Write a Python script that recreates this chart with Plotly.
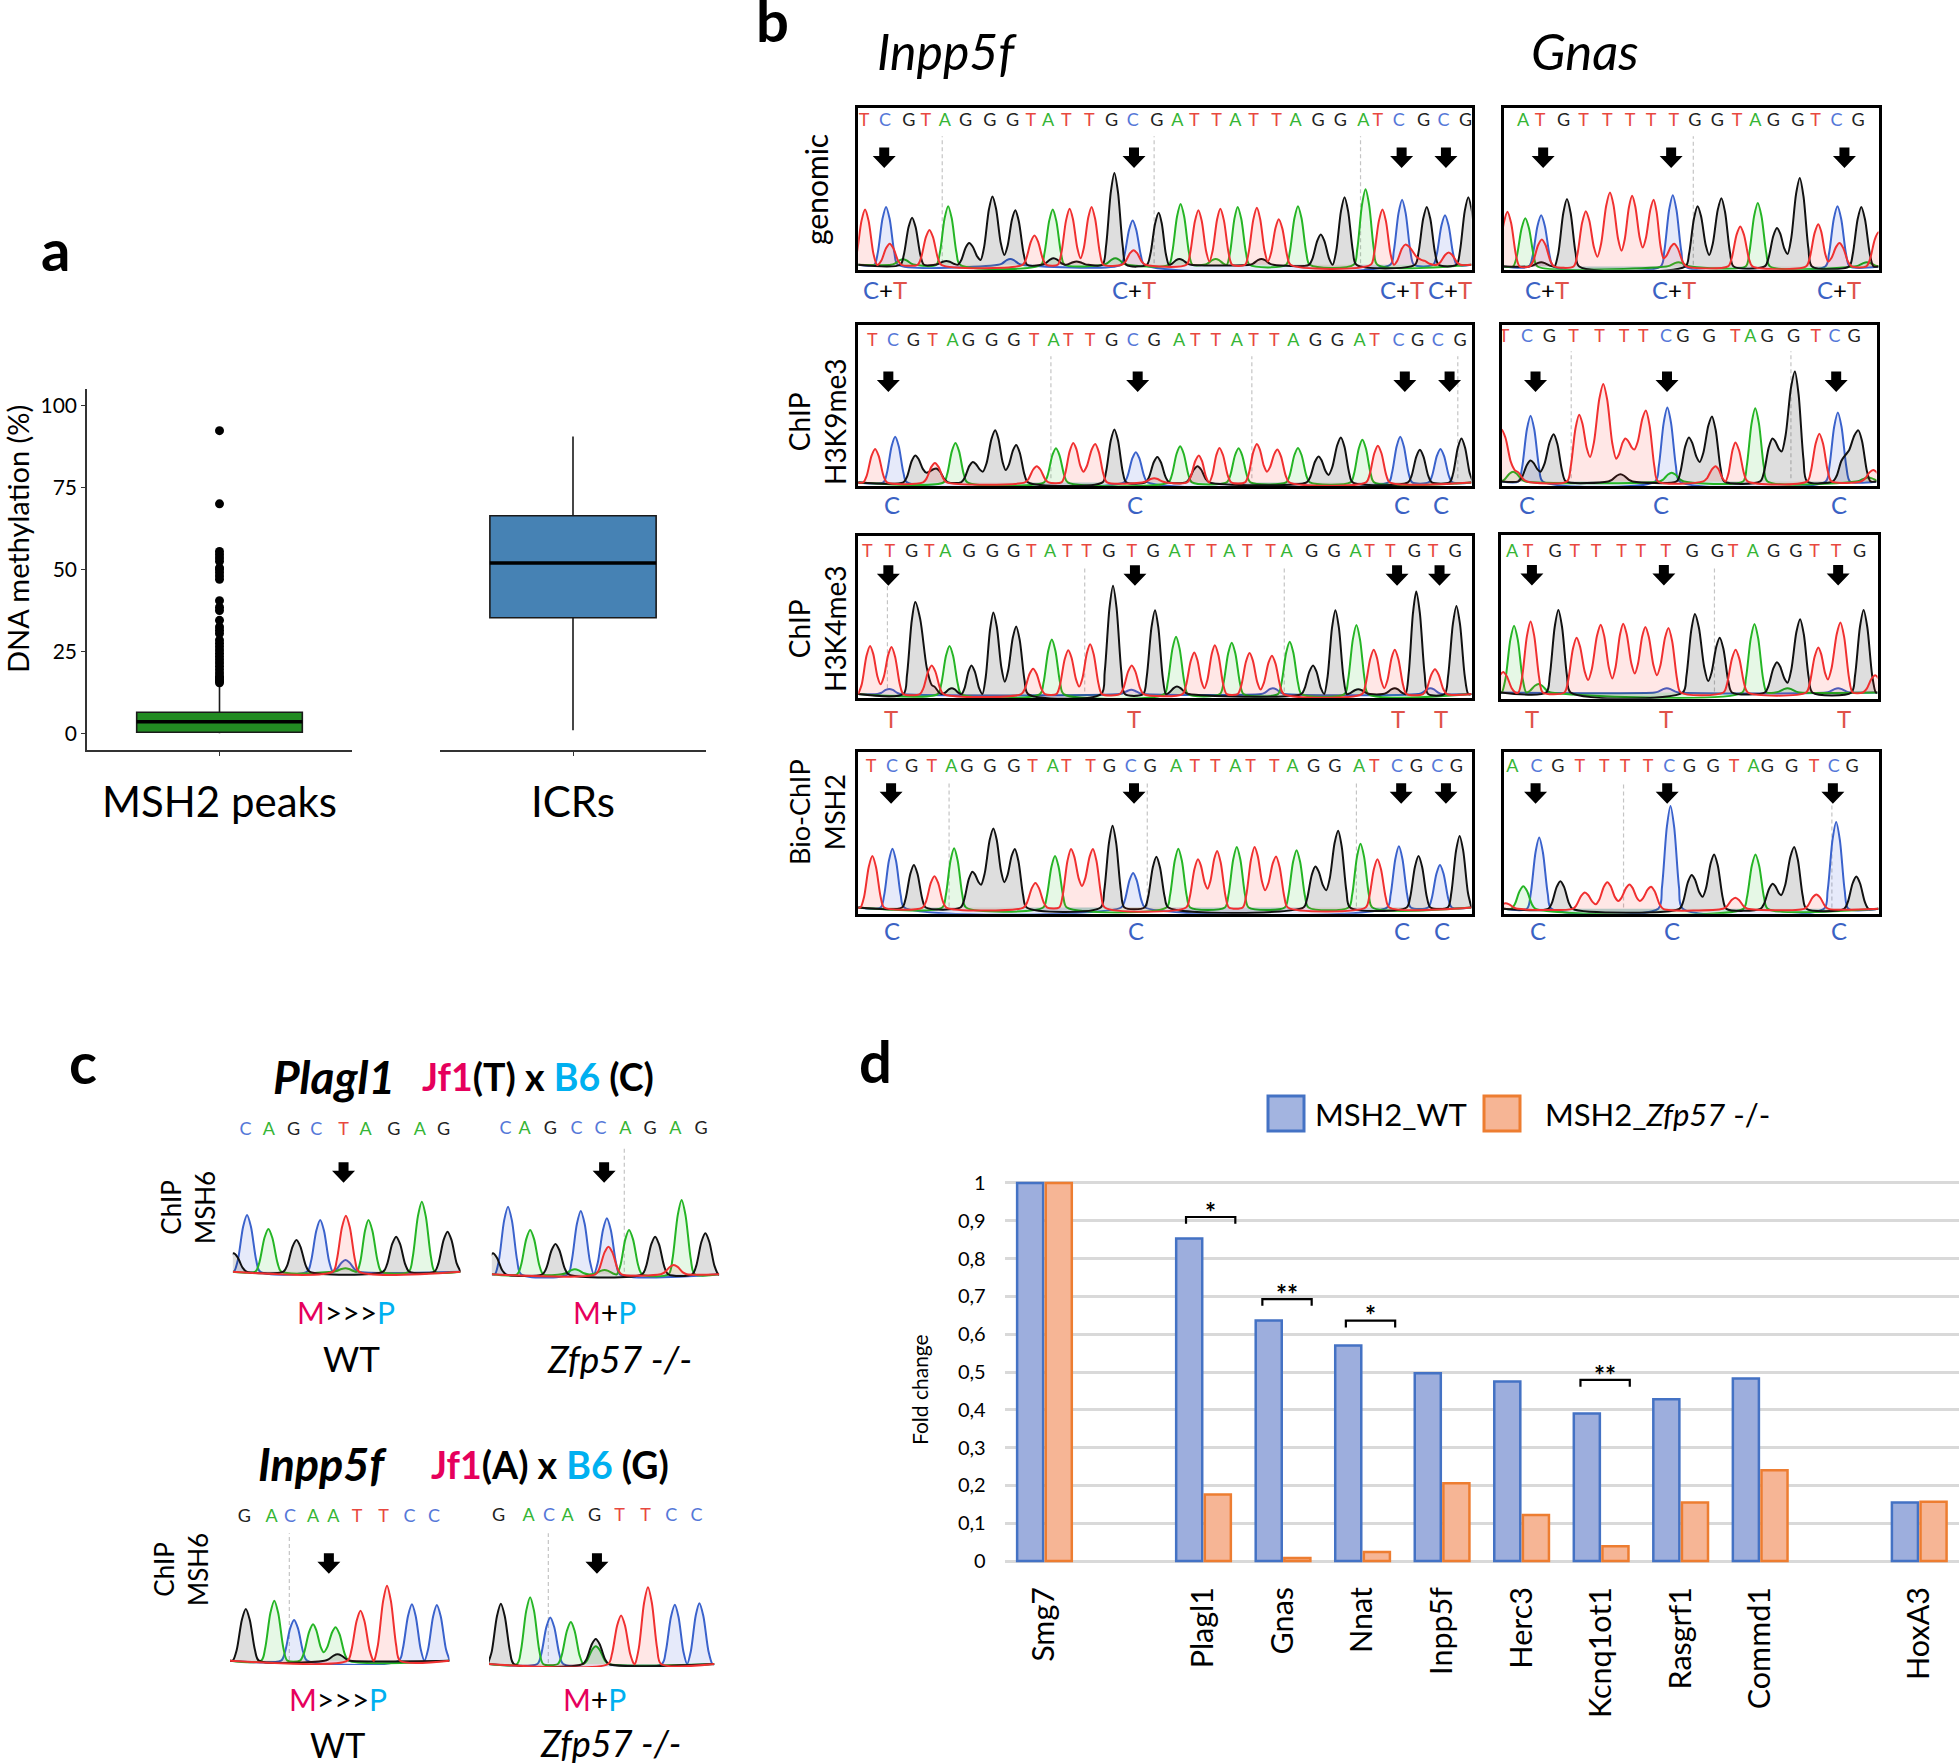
import math
import plotly.graph_objects as go

W, H = 1959, 1764
FONT = "Lato"

# ---------- panel a ----------
BOX_NAMES = ["MSH2 peaks", "ICRs"]
BOX_Q1 = [0.4, 35.3]
BOX_MEDIAN = [3.6, 52.0]
BOX_Q3 = [6.5, 66.4]
BOX_LOW = [0.1, 1.0]
BOX_HIGH = [15.0, 90.5]
BOX_COLORS = ["#228B22", "#4682B4"]
OUTLIERS = [92.3, 70, 55.5, 54.5, 53.5, 52.5, 50.5, 50, 49, 48, 47, 40.5, 38.5, 37.5, 34.5,
            32.5, 31.5, 30.5, 28.5, 27.5, 26.5, 25.5, 24.5, 23.5, 22.5, 21.5, 20.5, 19.5,
            18.5, 17.5, 17, 16.5, 16, 15.5]

# ---------- panel d ----------
GENES = ["Smg7", "", "Plagl1", "Gnas", "Nnat", "Inpp5f", "Herc3", "Kcnq1ot1", "Rasgrf1", "Commd1", "", "HoxA3"]
WT_VALUES = [1, None, .853, .636, .57, .497, .475, .39, .428, .483, None, .155]
KO_VALUES = [1, None, .176, .008, .024, .206, .122, .039, .155, .24, None, .157]
D_TICKS = [0, .1, .2, .3, .4, .5, .6, .7, .8, .9, 1]
D_LABELS = ["0", "0,1", "0,2", "0,3", "0,4", "0,5", "0,6", "0,7", "0,8", "0,9", "1"]
SIG_X = [2.09, 3.05, 4.10, 7.05]
SIG_Y = [.91, .693, .636, .479]
SIG_TEXT = ["*", "**", "*", "**"]

# ---------- chromatograms: (scan position, height) of peaks and valleys ----------
IG_RED = [(182,170),(236,65),(323,107),(553,90),(630,172),(654,20),(678,178),(770,45),(912,168),(936,10),(960,172),(1040,175),(1064,10),(1088,140),(1315,170),(1365,62),(1400,15),(1460,38)]
IG_BLK = [(285,145),(360,12),(410,67),(435,15),(461,210),(487,30),(511,168),(595,20),(645,10),(728,282),(825,160),(870,18),(1050,18),(1180,93),(1232,208),(1412,178),(1503,208)]
IG_GRN = [(265,17),(364,180),(593,170),(730,20),(873,187),(950,18),(998,178),(1130,180),(1278,232)]
IG_BLU = [(228,178),(500,18),(768,136),(1358,200),(1452,152)]
IG_SEQ = "TCGTAGGGTATTGCGATTATTAGGATCGCG"
IG_SEQX = [180,226,278,315,357,402,455,505,545,583,623,673,722,768,821,866,903,952,993,1033,1083,1125,1174,1223,1273,1305,1351,1405,1449,1497]

I9_RED = [(204,103),(335,60),(558,50),(638,121),(660,33),(686,118),(815,13),(913,83),(958,106),(1040,118),(1062,33),(1085,101),(1305,113)]
I9_BLK = [(292,83),(316,30),(338,43),(418,63),(440,33),(467,160),(490,38),(513,115),(728,163),(822,78),(910,50),(1175,80),(1197,23),(1224,138),(1397,100),(1488,135)]
I9_GRN = [(380,121),(600,105),(872,111),(1000,105),(1130,106),(1271,131)]
I9_BLU = [(248,140),(775,93),(1354,140),(1442,103)]
I9_SEQ = "TCGTAGGGTATTGCGATTATTAGGATCGCG"
I9_SEQX = [198,243,288,330,374,408,459,508,552,595,627,675,722,768,815,870,905,950,996,1033,1078,1120,1168,1216,1265,1298,1350,1392,1436,1485]

I4_RED = [(193,148),(216,30),(240,145),(328,88),(550,78),(627,135),(651,23),(675,153),(766,88),(903,128),(925,18),(948,150),(1024,126),(1048,14),(1073,118),(1296,136),(1319,18),(1342,136),(1430,76)]
I4_BLK = [(292,283),(328,28),(372,18),(415,88),(463,251),(488,38),(513,208),(725,333),(817,258),(865,23),(1163,88),(1212,258),(1262,15),(1342,18),(1389,315),(1477,271)]
I4_GRN = [(367,148),(591,168),(863,176),(985,158),(1112,161),(1258,212)]
I4_BLU = [(235,16),(765,13),(1075,18),(1420,18)]
I4_SEQ = "TTGTAGGGTATTGTGATTATTAGGATTGTG"
I4_SEQX = [187,236,284,323,358,410,461,507,546,587,625,667,716,766,813,860,893,941,980,1019,1070,1105,1160,1209,1256,1287,1332,1385,1426,1474]

IB_RED = [(198,158),(334,96),(555,75),(633,180),(657,66),(681,180),(911,148),(932,58),(953,174),(1035,186),(1058,53),(1082,157),(1304,148)]
IB_BLK = [(289,131),(417,110),(436,70),(463,243),(487,78),(510,180),(724,251),(820,156),(1168,126),(1192,53),(1218,236),(1394,158),(1484,220)]
IB_GRN = [(377,182),(598,158),(868,181),(996,186),(1127,176),(1267,196)]
IB_BLU = [(242,181),(769,106),(1351,188),(1441,131)]
IB_SEQ = "TCGTAGGGTATTGCGATTATTAGGATCGCG"
IB_SEQX = [195,241,284,328,371,405,455,508,549,593,623,676,717,764,806,863,904,949,993,1026,1078,1118,1164,1211,1264,1297,1347,1389,1435,1477]

GG_RED = [(78,168),(182,83),(315,170),(350,30),(388,227),(423,48),(455,217),(487,58),(520,205),(550,25),(582,70),(782,123),(1018,130),(1048,15),(1082,72),(1200,105)]
GG_BLK = [(180,13),(258,207),(653,185),(688,35),(725,210),(893,118),(925,38),(962,272),(1148,183)]
GG_GRN = [(132,148),(595,13),(835,195),(1165,13)]
GG_BLU = [(180,157),(578,219),(1076,185)]
GG_SEQ = "ATGTTTTTGGTAGGTCG"
GG_SEQX = [125,177,248,308,380,449,512,581,645,713,772,828,882,956,1010,1073,1138]

G9_RED = [(60,160),(100,35),(295,205),(328,75),(368,300),(407,70),(435,132),(462,98),(497,218),(708,47),(768,120),(1022,147),(1185,35)]
G9_BLK = [(148,64),(178,30),(218,145),(420,22),(627,135),(660,60),(697,200),(880,132),(908,92),(948,338),(1100,80),(1140,157)]
G9_GRN = [(95,30),(575,27),(828,225),(1170,12)]
G9_BLU = [(148,202),(562,227),(1078,212)]
G9_SEQ = "TCGTTTTCGGTAGGTCG"
G9_SEQX = [68,137,205,278,357,431,489,558,609,688,768,813,864,944,1011,1068,1127]

G4_RED = [(65,63),(148,218),(287,168),(322,38),(360,208),(395,43),(428,211),(463,58),(495,201),(530,53),(565,198),(768,131),(1018,138),(1047,40),(1085,215),(1190,53)]
G4_BLK = [(232,253),(645,241),(685,35),(720,168),(893,93),(925,30),(963,225),(1155,253)]
G4_GRN = [(98,205),(172,26),(825,210),(925,13)]
G4_BLU = [(560,13),(1078,13)]
G4_SEQ = "ATGTTTTTGGTAGGTTG"
G4_SEQX = [92,140,222,282,346,423,481,557,636,713,760,820,883,950,1007,1072,1143]

GB_RED = [(72,17),(312,50),(345,14),(380,82),(413,24),(447,75),(478,24),(512,68),(767,34),(1012,44)]
GB_BLK = [(238,85),(635,104),(668,37),(703,167),(880,77),(906,42),(945,190),(1133,99)]
GB_GRN = [(126,69),(828,167)]
GB_BLU = [(174,219),(571,316),(1072,267)]
GB_SEQ = "ACGTTTTCGGTAGGTCG"
GB_SEQX = [93,166,230,297,371,434,503,567,628,700,763,822,864,937,1005,1065,1120]

C1_RED = [(546,168)]
C1_BLK = [(262,55),(421,95),(673,105),(803,120)]
C1_GRN = [(350,128),(545,10),(603,155),(738,210)]
C1_BLU = [(296,170),(481,155),(545,35)]
C1_SEQ = "CAGCTAGAG"
C1_SEQX = [292,351,414,471,540,596,667,733,793]

C2_RED = [(1210,83),(1375,28)]
C2_BLK = [(918,63),(1076,91),(1328,113),(1455,123)]
C2_GRN = [(1012,133),(1125,15),(1200,13),(1262,133),(1395,223)]
C2_BLU = [(956,203),(1140,190),(1206,168)]
C2_SEQ = "CAGCCAGAG"
C2_SEQX = [950,998,1063,1129,1190,1253,1315,1379,1444]

C3_RED = [(583,150),(650,225)]
C3_BLK = [(293,155),(525,19)]
C3_GRN = [(365,180),(463,109),(490,25),(520,100)]
C3_BLU = [(415,122),(713,169),(776,167)]
C3_SEQ = "GACAATTCC"
C3_SEQX = [289,358,405,463,514,574,641,707,769]

C4_RED = [(1242,146),(1310,231)]
C4_BLK = [(938,181),(1178,75)]
C4_GRN = [(1012,201),(1115,126),(1178,53)]
C4_BLU = [(1063,140),(1378,178),(1440,183)]
C4_SEQ = "GACAGTTCC"
C4_SEQX = [932,1008,1060,1107,1175,1238,1304,1369,1433]

LETTER_COL = {"G": "#222222", "A": "#35B535", "T": "#E8483F", "C": "#5577D8"}
LINE_COL = {"B": "#3A62CC", "G": "#25B525", "K": "#111111", "R": "#F03030"}
FILL_COL = {"B": "rgba(60,90,220,0.13)", "G": "rgba(30,190,30,0.11)",
            "K": "rgba(0,0,0,0.13)", "R": "rgba(255,40,30,0.11)"}

PANELS = [
 dict(ch=(IG_BLU,IG_GRN,IG_BLK,IG_RED), seq=IG_SEQ, sx=IG_SEQX, px=(856.7,1473,106,272), xr=(167,1510), yc=(48,546,530), ly=90,
      arrows=[224,771,1357,1454], ay=200, dash=[(351,135,525),(815,135,525),(1267,135,525)], foot=26, frame=True),
 dict(ch=(I9_BLU,I9_GRN,I9_BLK,I9_RED), seq=I9_SEQ, sx=I9_SEQX, px=(856.7,1473,323.3,488.3), xr=(167,1510), yc=(700,1195,1183), ly=750,
      arrows=[233,779,1364,1462], ay=873, dash=[(589,795,1170),(1029,795,1170),(1480,795,1170)], foot=26, frame=True),
 dict(ch=(I4_BLU,I4_GRN,I4_BLK,I4_RED), seq=I4_SEQ, sx=I4_SEQX, px=(856.7,1473,534.3,700), xr=(167,1510), yc=(43,540,528), ly=93,
      arrows=[233,773,1347,1440], ay=163, dash=[(231,195,510),(663,138,520),(1100,138,520)], foot=26, frame=True),
 dict(ch=(IB_BLU,IB_GRN,IB_BLK,IB_RED), seq=IB_SEQ, sx=IB_SEQX, px=(856.7,1473,750,915.7), xr=(167,1510), yc=(690,1187,1168), ly=738,
      arrows=[239,771,1356,1454], ay=817, dash=[(366,782,1165),(800,782,1165),(1258,782,1165)], foot=26, frame=True),
 dict(ch=(GG_BLU,GG_GRN,GG_BLK,GG_RED), seq=GG_SEQ, sx=GG_SEQX, px=(1502.3,1880,105.7,271.7), xr=(67,1200), yc=(47,545,535), ly=90,
      arrows=[186,573,1097], ay=200, dash=[(640,135,530)], foot=37, frame=True),
 dict(ch=(G9_BLU,G9_GRN,G9_BLK,G9_RED), seq=G9_SEQ, sx=G9_SEQX, px=(1500,1878,322.7,488.3), xr=(60,1195), yc=(698,1195,1180), ly=737,
      arrows=[163,561,1073], ay=873, dash=[(271,780,1170),(936,780,1170)], foot=37, frame=True),
 dict(ch=(G4_BLU,G4_GRN,G4_BLK,G4_RED), seq=G4_SEQ, sx=G4_SEQX, px=(1499,1879,533,700.7), xr=(57,1197), yc=(40,542,523), ly=95,
      arrows=[152,551,1078], ay=163, dash=[(704,138,520)], foot=37, frame=True),
 dict(ch=(GB_BLU,GB_GRN,GB_BLK,GB_RED), seq=GB_SEQ, sx=GB_SEQX, px=(1502,1880,750,915.7), xr=(66,1200), yc=(690,1187,1172), ly=738,
      arrows=[163,561,1062], ay=817, dash=[(429,782,1168),(1059,850,1168)], foot=37, frame=True),
 dict(ch=(C1_BLU,C1_GRN,C1_BLK,C1_RED), seq=C1_SEQ, sx=C1_SEQX, px=(232.8,460.6,1116.7,1280), xr=(260,836), yc=(230,720,695), ly=270,
      arrows=[540], ay=397, dash=[], foot=33, frame=False),
 dict(ch=(C2_BLU,C2_GRN,C2_BLK,C2_RED), seq=C2_SEQ, sx=C2_SEQX, px=(491.8,719.2,1116.7,1280), xr=(915,1490), yc=(230,720,703), ly=268,
      arrows=[1199], ay=397, dash=[(1250,320,695)], foot=33, frame=False),
 dict(ch=(C3_BLU,C3_GRN,C3_BLK,C3_RED), seq=C3_SEQ, sx=C3_SEQX, px=(230,449.5,1500,1665), xr=(253,808), yc=(240,735,722), ly=292,
      arrows=[503], ay=430, dash=[(403,340,720)], foot=33, frame=False),
 dict(ch=(C4_BLU,C4_GRN,C4_BLK,C4_RED), seq=C4_SEQ, sx=C4_SEQX, px=(489,714.4,1500,1667), xr=(908,1478), yc=(240,742,733), ly=290,
      arrows=[1181], ay=430, dash=[(1058,340,730)], foot=33, frame=False),
]
ARROW = "M -5 10 L 5 10 L 5 1.5 L 11.5 1.5 L 0 -10.5 L -11.5 1.5 L -5 1.5 Z"


def curve(points, foot, xmin, xmax):
    """Trace through the read peaks and valleys, dropping to the baseline between separate peaks;
    two shape points on each flank keep the peak tops round."""
    pts = sorted(points)
    ctrl = [(pts[0][0] - foot, 0)]
    for i, (x, h) in enumerate(pts):
        if i:
            prev = pts[i - 1][0]
            if x - prev > 1.4 * foot:
                if prev + foot >= x - foot:
                    ctrl.append(((prev + x) / 2, 0))
                else:
                    ctrl += [(prev + foot, 0), (x - foot, 0)]
        ctrl.append((x, h))
    ctrl.append((pts[-1][0] + foot, 0))
    xs, ys = [ctrl[0][0]], [ctrl[0][1]]
    for (x0, y0), (x1, y1) in zip(ctrl, ctrl[1:]):
        if y0 != y1:
            for t in (0.3, 0.7):
                xs.append(x0 + (x1 - x0) * t)
                ys.append(y0 + (y1 - y0) * (1 - math.cos(math.pi * t)) / 2)
        xs.append(x1)
        ys.append(y1)
    if xs[0] > xmin:
        xs.insert(0, xmin); ys.insert(0, 0)
    if xs[-1] < xmax:
        xs.append(xmax); ys.append(0)
    return xs, ys


def px(x):
    return x / W


def py(y):
    return 1 - y / H


fig = go.Figure()
layout_axes = {}
shapes = []
annots = []
axis_n = [0]


def new_axes(l, r, t, b, xopts, yopts):
    axis_n[0] += 1
    n = axis_n[0]
    s = "" if n == 1 else str(n)
    layout_axes["xaxis" + s] = dict(domain=[px(l), px(r)], anchor="y" + s, **xopts)
    layout_axes["yaxis" + s] = dict(domain=[py(b), py(t)], anchor="x" + s, **yopts)
    return "x" + s, "y" + s


def text(x, y, t, size, **kw):
    d = dict(x=px(x), y=py(y), xref="paper", yref="paper", text=t, showarrow=False,
             font=dict(family=FONT, size=size, color=kw.pop("color", "black")),
             xanchor=kw.pop("xanchor", "center"), yanchor="middle")
    d.update(kw)
    annots.append(d)


# ---------- panel a ----------
for i, (l, r) in enumerate([(87, 352), (440, 706)]):
    xopts = dict(range=[-0.6, 0.6], tickvals=[0], ticktext=[BOX_NAMES[i]], showgrid=False, zeroline=False, showline=True,
                 linecolor="#333333", linewidth=1.5, ticks="outside", ticklen=4, tickcolor="#333333",
                 tickfont=dict(family=FONT, size=42, color="black"), ticklabelstandoff=11)
    yopts = dict(range=[-5, 105], showgrid=False, zeroline=False)
    if i == 0:
        yopts.update(showline=True, linecolor="#333333", linewidth=1.5, ticks="outside", ticklen=4,
                     tickcolor="#333333", tickvals=[0, 25, 50, 75, 100],
                     tickfont=dict(family=FONT, size=21, color="black"))
    else:
        yopts.update(visible=False)
    xa, ya = new_axes(l, r, 389, 750, xopts, yopts)
    fig.add_trace(go.Box(x=[0], q1=[BOX_Q1[i]], median=[BOX_MEDIAN[i]], q3=[BOX_Q3[i]],
                         lowerfence=[BOX_LOW[i]], upperfence=[BOX_HIGH[i]], width=0.75, whiskerwidth=0,
                         fillcolor=BOX_COLORS[i], line=dict(color="#1a1a1a", width=1.6),
                         boxpoints=False, xaxis=xa, yaxis=ya, showlegend=False))
    fig.add_trace(go.Scatter(x=[-0.375, 0.375], y=[BOX_MEDIAN[i]] * 2, mode="lines", line=dict(color="black", width=3.6),
                             xaxis=xa, yaxis=ya, showlegend=False))
    if i == 0:
        fig.add_trace(go.Scatter(x=[0] * len(OUTLIERS), y=OUTLIERS, mode="markers",
                                 marker=dict(color="black", size=9), xaxis=xa, yaxis=ya, showlegend=False))
text(17, 539, "DNA methylation (%)", 29, textangle=-90)
text(55, 248, "<b>a</b>", 58)

# ---------- chromatograms ----------
for p in PANELS:
    top, bot, base = p["yc"]
    frame = dict(showline=True, mirror=True, linecolor="black", linewidth=3) if p["frame"] else dict()
    xo = dict(range=list(p["xr"]), showgrid=False, zeroline=False, showticklabels=False, ticks="", **frame)
    yo = dict(range=[base - bot, base - top], showgrid=False, zeroline=False, showticklabels=False, ticks="", **frame)
    if not p["frame"]:
        xo["visible"] = False
        yo["visible"] = False
    l, r, t, b = p["px"]
    if p["frame"]:
        l, r, t, b = l + 1.5, r - 1.5, t + 2, b - 2
    xa, ya = new_axes(l, r, t, b, xo, yo)
    for (dx, y0, y1) in p["dash"]:
        fig.add_trace(go.Scatter(x=[dx, dx], y=[base - y1, base - y0], mode="lines", xaxis=xa, yaxis=ya,
                                 line=dict(color="#C4C4C4", width=1.2, dash="4px,3px"), showlegend=False))
    for key, pts in zip("BGKR", p["ch"]):
        xs, ys = curve(pts, p["foot"], p["xr"][0], p["xr"][1])
        fig.add_trace(go.Scatter(x=xs, y=ys, mode="lines", xaxis=xa, yaxis=ya, fill="tozeroy",
                                 fillcolor=FILL_COL[key], showlegend=False,
                                 line=dict(color=LINE_COL[key], width=2, shape="spline", smoothing=0.8)))
    fig.add_trace(go.Scatter(x=p["sx"], y=[base - p["ly"]] * len(p["sx"]), mode="text", text=list(p["seq"]),
                             textfont=dict(family=FONT, size=18, color=[LETTER_COL[c] for c in p["seq"]]),
                             xaxis=xa, yaxis=ya, showlegend=False, cliponaxis=True))
    for ax in p["arrows"]:
        shapes.append(dict(type="path", xref=xa, yref=ya, xsizemode="pixel", ysizemode="pixel",
                           xanchor=ax, yanchor=base - p["ay"], path=ARROW,
                           fillcolor="black", line=dict(width=0)))

CB = "#3B62C4"
TR = "#E0524A"
CT = f'<span style="color:{CB}">C</span>+<span style="color:{TR}">T</span>'
CC = f'<span style="color:{CB}">C</span>'
TT = f'<span style="color:{TR}">T</span>'
IN_X = lambda v: 780 + v / 2.178
GN_X = lambda v: 1480 + v / 3
for xs_, y_, lab in [([228, 772, 1355, 1460], 289, CT), ([243, 773, 1355, 1440], 504, CC),
                     ([241, 771, 1347, 1439], 718, TT), ([245, 776, 1355, 1441], 930, CC)]:
    for v in xs_:
        text(IN_X(v), y_, lab, 24)
for xs_, y_, lab in [([202, 582, 1077], 289, CT), ([140, 544, 1078], 504, CC),
                     ([155, 559, 1092], 718, TT), ([174, 576, 1076], 930, CC)]:
    for v in xs_:
        text(GN_X(v), y_, lab, 24)

text(772, 20, "<b>b</b>", 58)
text(947, 51, "<i>Inpp5f</i>", 50)
text(1585, 51, "<i>Gnas</i>", 51)
text(816, 190, "genomic", 30, textangle=-90)
text(817, 422, "ChIP<br>H3K9me3", 28, textangle=-90)
text(817, 629, "ChIP<br>H3K4me3", 28, textangle=-90)
text(817, 812, "Bio-ChIP<br>MSH2", 27, textangle=-90)

# ---------- panel c texts ----------
PINK = "#E6005C"
CYAN = "#00B0F0"
text(83, 1061, "<b>c</b>", 58)
text(271, 1076, "<b><i>Plagl1</i></b>", 46, xanchor="left")
text(420, 1076, f'<b><span style="color:{PINK}">Jf1</span>(T) x <span style="color:{CYAN}">B6</span> (C)</b>', 37.5, xanchor="left")
text(256, 1464, "<b><i>Inpp5f</i></b>", 45, xanchor="left")
text(429, 1464, f'<b><span style="color:{PINK}">Jf1</span>(A) x <span style="color:{CYAN}">B6</span> (G)</b>', 37.5, xanchor="left")
MP1 = f'<span style="color:{PINK}">M</span>&gt;&gt;&gt;<span style="color:{CYAN}">P</span>'
MP2 = f'<span style="color:{PINK}">M</span>+<span style="color:{CYAN}">P</span>'
text(346, 1312, MP1, 30)
text(604, 1312, MP2, 30)
text(351, 1358, "WT", 35)
text(619, 1358, "<i>Zfp57 -/-</i>", 37)
text(338, 1699, MP1, 30)
text(594, 1699, MP2, 30)
text(337, 1744, "WT", 34)
text(610, 1743, "<i>Zfp57 -/-</i>", 36)
text(188, 1208, "ChIP<br>MSH6", 26, textangle=-90)
text(181, 1570, "ChIP<br>MSH6", 26, textangle=-90)

# ---------- panel d ----------
xd, yd = new_axes(1004.7, 1959, 1179.2, 1564.8,
                  dict(range=[-0.5, 11.5], tickvals=[i for i, g in enumerate(GENES) if g],
                       ticktext=[g for g in GENES if g], tickangle=-90, showgrid=False, zeroline=False,
                       ticks="outside", ticklen=9, tickcolor="rgba(0,0,0,0)",
                       tickfont=dict(family=FONT, size=30.5, color="black")),
                  dict(range=[-0.01, 1.01], tickvals=D_TICKS, ticktext=D_LABELS, showgrid=True,
                       gridcolor="#D9D9D9", gridwidth=3, zeroline=False, ticks="outside", ticklen=14,
                       tickcolor="rgba(0,0,0,0)", tickfont=dict(family=FONT, size=20, color="black")))
fig.add_trace(go.Bar(x=list(range(12)), y=WT_VALUES, marker=dict(color="#9DAEDD", line=dict(color="#4472C4", width=2.5)),
                     xaxis=xd, yaxis=yd, showlegend=False, offsetgroup="a"))
fig.add_trace(go.Bar(x=list(range(12)), y=KO_VALUES, marker=dict(color="#F6B595", line=dict(color="#ED7D31", width=2.5)),
                     xaxis=xd, yaxis=yd, showlegend=False, offsetgroup="b"))
for sx, sy, st in zip(SIG_X, SIG_Y, SIG_TEXT):
    fig.add_trace(go.Scatter(x=[sx - .31, sx - .31, sx + .31, sx + .31], y=[sy - .018, sy, sy, sy - .018],
                             mode="lines", line=dict(color="black", width=2.2), xaxis=xd, yaxis=yd, showlegend=False))
    annots.append(dict(x=sx, y=sy + .014, xref=xd, yref=yd, text=f"<b>{st}</b>", showarrow=False, yanchor="middle",
                       font=dict(family=FONT, size=26, color="black")))
text(875, 1060, "<b>d</b>", 58)
text(919, 1390, "Fold change", 21, textangle=-90)
for x0, x1, c, e in [(1268, 1304, "#A3B4E0", "#4472C4"), (1484, 1520, "#F6B595", "#ED7D31")]:
    shapes.append(dict(type="rect", xref="paper", yref="paper", x0=px(x0), x1=px(x1), y0=py(1131), y1=py(1096),
                       fillcolor=c, line=dict(color=e, width=3)))
text(1313, 1114, "MSH2_WT", 31, xanchor="left")
text(1543, 1114, "MSH2_<i>Zfp57</i> -/-", 31, xanchor="left")

fig.update_layout(width=W, height=H, margin=dict(l=0, r=0, t=0, b=0, autoexpand=False), paper_bgcolor="white",
                  plot_bgcolor="rgba(0,0,0,0)", barmode="group", bargap=0.28, bargroupgap=0.09,
                  shapes=shapes, annotations=annots, showlegend=False, **layout_axes)
fig.write_html("out.html", post_script="document.body.style.margin='0';document.body.style.overflow='hidden';",
               config={"displayModeBar": False})
